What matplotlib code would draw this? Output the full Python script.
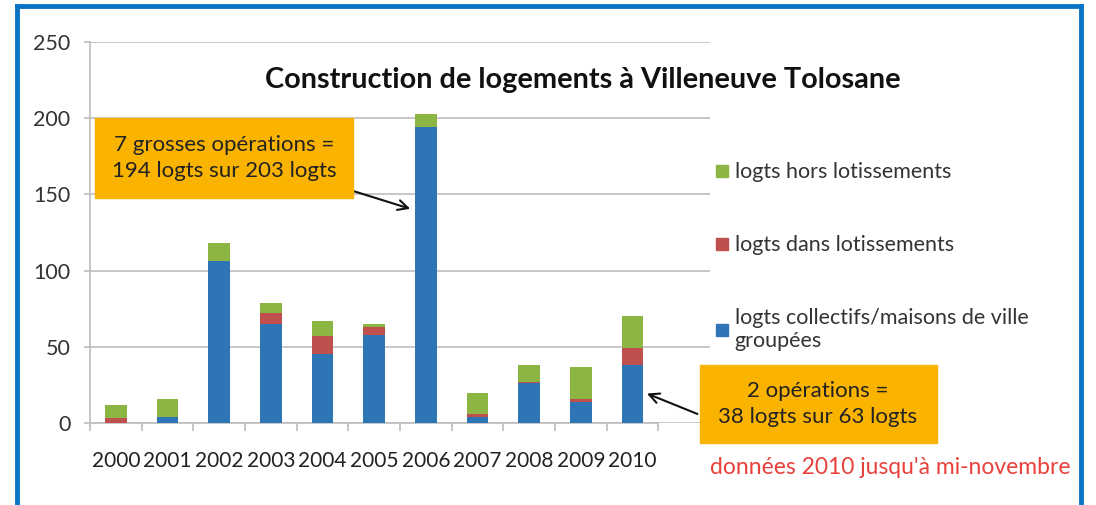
import numpy as np
import matplotlib.pyplot as plt
from matplotlib.patches import Rectangle
from matplotlib.lines import Line2D

plt.rcParams['font.family'] = ['Lato', 'DejaVu Sans']

years = ['2000', '2001', '2002', '2003', '2004', '2005', '2006', '2007', '2008', '2009', '2010']
collectifs = [0, 4, 106, 65, 45, 58, 194, 4, 26, 14, 38]
lotissements = [3, 0, 0, 7, 12, 5, 0, 2, 1, 2, 11]
hors_lotissements = [9, 12, 12, 7, 10, 2, 9, 14, 11, 21, 21]

c_blue = '#2E75B6'
c_red = '#C0504D'
c_green = '#8DB543'
c_orange = '#FAB400'

fig = plt.figure(figsize=(10.96, 5.05), dpi=100)
ax = fig.add_axes([90 / 1096, 1 - 423 / 505, 620 / 1096, 381 / 505])

x = np.arange(len(years))
b1 = np.array(collectifs)
b2 = b1 + np.array(lotissements)
w = 0.42
ax.bar(x, collectifs, width=w, color=c_blue, zorder=3)
ax.bar(x, lotissements, width=w, bottom=b1, color=c_red, zorder=3)
ax.bar(x, hors_lotissements, width=w, bottom=b2, color=c_green, zorder=3)

ax.set_xlim(-0.5, 11.5)
ax.set_ylim(0, 250)
ax.set_yticks(range(0, 251, 50))
ax.yaxis.grid(True, color='#BDBDBD', linewidth=1.2, zorder=0)
ax.set_xticks(np.arange(-0.5, 11, 1))
ax.set_xticklabels([])
ax.set_xticks(x, minor=True)
ax.set_xticklabels(years, minor=True, fontsize=15, color='#222222')
ax.tick_params(axis='x', which='major', length=6, color='#BDBDBD', width=1.2)
ax.tick_params(axis='x', which='minor', length=0, pad=20)
ax.tick_params(axis='y', length=4, color='#BDBDBD', width=1.2, labelsize=15.5,
               labelcolor='#333333', pad=10)
for s in ['top', 'right']:
    ax.spines[s].set_visible(False)
ax.spines['left'].set_color('#BDBDBD')
ax.spines['bottom'].set_color('#BDBDBD')
ax.spines['left'].set_linewidth(1.2)
ax.spines['bottom'].set_linewidth(1.2)
ax.spines['bottom'].set_bounds(-0.5, 10.5)

fig.text(583 / 1096, 1 - 80 / 505, 'Construction de logements à Villeneuve Tolosane',
         ha='center', va='center', fontsize=20.8, fontweight='bold', color='#111111')

# legend
handles = [
    Line2D([], [], marker='s', linestyle='none', color=c_green, markersize=8),
    Line2D([], [], marker='s', linestyle='none', color=c_red, markersize=8),
    Line2D([], [], marker='s', linestyle='none', color=c_blue, markersize=8),
]
labels = ['logts hors lotissements', 'logts dans lotissements',
          'logts collectifs/maisons de ville\ngroupées']
fig.legend(handles, labels, loc='upper left', bbox_to_anchor=(695 / 1096, 1 - 143 / 505),
           frameon=False, fontsize=15.5, labelspacing=2.45, handletextpad=0.25,
           handlelength=0.7, labelcolor='#333333')

# annotation boxes
fig.patches.append(Rectangle((95 / 1096, 1 - 198 / 505), 258 / 1096, 80 / 505,
                             transform=fig.transFigure, color=c_orange, zorder=5))
fig.text(224 / 1096, 1 - 158 / 505, '7 grosses opérations =\n194 logts sur 203 logts',
         ha='center', va='center', fontsize=16, color='#222222', linespacing=1.4, zorder=6)
ax.annotate('', xy=(6 - 0.25, 140), xycoords='data',
            xytext=(350 / 1096, 1 - 190 / 505), textcoords='figure fraction',
            arrowprops=dict(arrowstyle='->', color='#111111', lw=1.5,
                            mutation_scale=18), zorder=7)

fig.patches.append(Rectangle((700 / 1096, 1 - 443 / 505), 237 / 1096, 78 / 505,
                             transform=fig.transFigure, color=c_orange, zorder=5))
fig.text(818 / 1096, 1 - 404 / 505, '2 opérations =\n38 logts sur 63 logts',
         ha='center', va='center', fontsize=16, color='#222222', linespacing=1.4, zorder=6)
ax.annotate('', xy=(10 + 0.23, 20), xycoords='data',
            xytext=(700 / 1096, 1 - 415 / 505), textcoords='figure fraction',
            arrowprops=dict(arrowstyle='->', color='#111111', lw=1.5,
                            mutation_scale=18), zorder=7)

fig.text(710 / 1096, 1 - 467 / 505, "données 2010 jusqu'à mi-novembre",
         ha='left', va='center', fontsize=16.5, color='#E8413C')

# blue frame
frame = dict(color='#0A74C4', linewidth=3.5, transform=fig.transFigure)
fig.add_artist(Line2D([17 / 1096, 17 / 1096], [0, 1 - 6 / 505], **frame))
fig.add_artist(Line2D([17 / 1096, 1081 / 1096], [1 - 6 / 505, 1 - 6 / 505], **frame))
fig.add_artist(Line2D([1081 / 1096, 1081 / 1096], [0, 1 - 6 / 505], **frame))

fig.savefig('out.png', dpi=100)
